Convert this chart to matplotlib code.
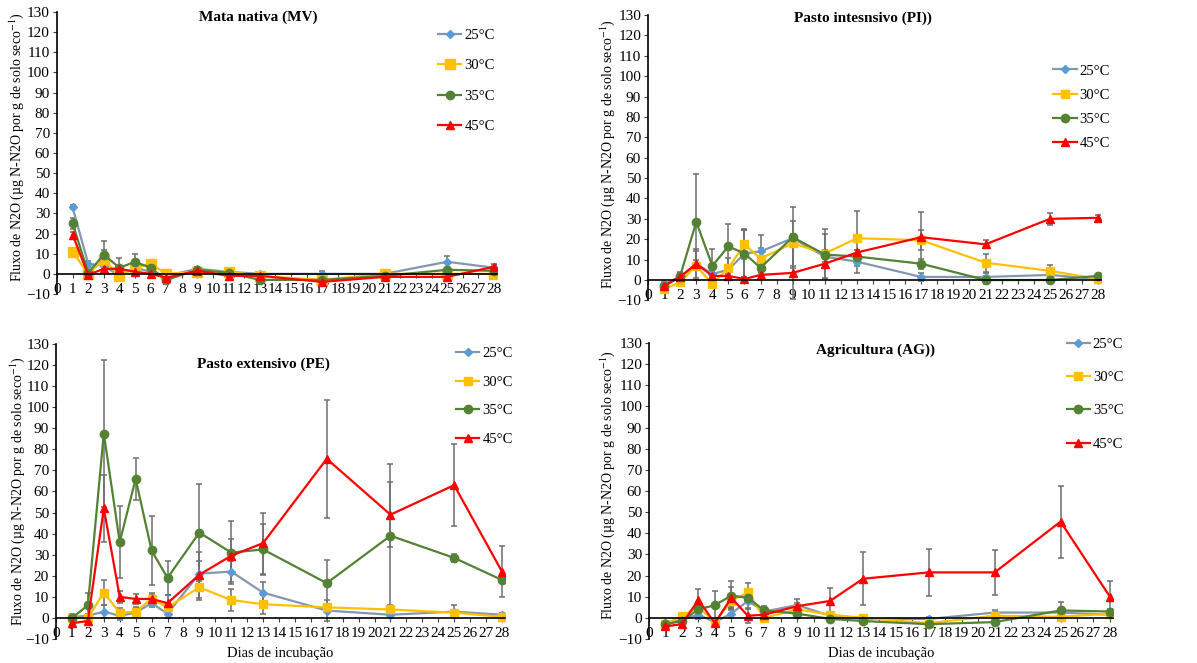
import numpy as np
import matplotlib
matplotlib.use('Agg')
import matplotlib.pyplot as plt

plt.rcParams['font.family'] = ['Liberation Serif', 'DejaVu Serif']
plt.rcParams['mathtext.fontset'] = 'stix'

# dias de amostragem
dias = [1, 2, 3, 4, 5, 6, 7, 9, 11, 13, 17, 21, 25, 28]
temps = ['25°C', '30°C', '35°C', '45°C']

# Mata nativa (MV)
mv_25 = [33, 5, 4, -1, 3, 1, -1, 2.5, 1, 0, 0, 0, 6, 3]
mv_30 = [11, 0, 7, -1, 3, 5, 0, 1, 1, -1, -3, 0, 0, 0]
mv_35 = [25, 0.5, 9.5, 3, 6, 3, -3, 2, 0.5, -3, -3, -1, 2, 1.5]
mv_45 = [19.5, -0.5, 2.5, 2.5, 1, 0, -2, 1.5, -1, -1, -4, -1.5, -1.5, 3.5]
mv_25_err = [1, 1.5, 2, 1, 1, 1, 1, 1, 0.5, 0.5, 1.5, 0.5, 3, 1.5]
mv_30_err = [1, 0.5, 5, 1, 1, 1, 0.5, 0.5, 0.5, 0.5, 0.5, 0.5, 0.5, 0.5]
mv_35_err = [2.5, 1, 7, 5, 4, 1, 1, 1, 0.5, 0.5, 0.5, 0.5, 1, 1]
mv_45_err = [1.5, 0.5, 1, 1, 1, 1, 1, 1, 0.5, 0.5, 0.5, 0.5, 0.5, 1.5]

# Pasto intensivo (PI)
pi_25 = [-2, 1.5, 8, 3, 5, 13, 14, 20.5, 11.5, 9, 1.5, 1.5, 2.5, 0.5]
pi_30 = [-4.5, -1, 7, -2, 6, 17.5, 10.5, 18, 13, 20.5, 19.5, 8.5, 4.5, 0.5]
pi_35 = [-3, 2, 28.5, 7, 16.5, 13, 6, 21, 12.5, 11.5, 8, 0, 0, 2]
pi_45 = [-3, 1.5, 8, 2, 2, 0.5, 2.5, 3.5, 8, 13.5, 21, 17.5, 30, 30.5]
pi_25_err = [1, 2, 2, 1.5, 2, 12, 8, 2, 11, 5.5, 2, 2, 1, 0.5]
pi_30_err = [1, 1, 7, 1, 5, 7, 5, 11, 12, 13.5, 5, 4.5, 3, 0.5]
pi_35_err = [1, 2, 23.5, 8, 11, 11.5, 2, 15, 2, 1, 2.5, 2, 0.5, 0.5]
pi_45_err = [1, 1, 7, 1, 1, 1, 1, 13, 1, 1, 12.5, 2, 3, 1.5]

# Pasto extensivo (PE)
pe_25 = [0.5, 1, 3, 1, 2.5, 7, 2, 21, 22, 12, 3.5, 1.5, 3, 1.5]
pe_30 = [0, 0, 12, 2.5, 3, 9, 5, 14.5, 8.5, 6.5, 5, 4, 2.5, 0.5]
pe_35 = [0, 6, 87.5, 36, 66, 32, 19, 40.5, 31, 32.5, 16.5, 39, 28.5, 18]
pe_45 = [-2.5, -1.5, 52, 10, 9, 9, 7, 20.5, 29.5, 35.5, 75.5, 49, 63, 22]
pe_25_err = [1.5, 1, 3, 2, 2, 2, 2, 6, 5, 5, 5, 1, 3, 1]
pe_30_err = [1, 1, 6, 2, 2, 2, 2, 6, 5, 4.5, 1, 2, 1, 0.5]
pe_35_err = [1, 6, 35, 17, 10, 16.5, 8, 23, 15, 12, 11, 34, 2, 1]
pe_45_err = [1, 1, 16, 3, 2.5, 3, 4, 11, 8, 14.5, 28, 15.5, 19.5, 12]

# Agricultura (AG)
ag_25 = [-2.5, -1, 1.5, -2, 2, 8, 3, 6, 1, -0.5, -0.5, 2.5, 2.5, 1.5]
ag_30 = [-3, 1, 5, -2, 8, 12, 0, 4, 1.5, 0, -2.5, 1, 0.5, 2]
ag_35 = [-3, -1.5, 4, 6, 10.5, 9.5, 3.5, 2, -0.5, -1.5, -3, -2, 3.5, 3]
ag_45 = [-4, -3, 8.5, -2.5, 9.5, 1, 1.5, 5.5, 8, 18.5, 21.5, 21.5, 45.5, 10]
ag_25_err = [1, 1, 2, 1, 2, 4, 2, 3, 1, 0.5, 1, 1, 1, 1]
ag_30_err = [1, 1.5, 2, 1, 3, 4.5, 1, 2, 1, 0.5, 0.5, 0.5, 0.5, 0.5]
ag_35_err = [1, 1, 2, 6.5, 7, 2, 2, 1, 0.5, 0.5, 0.5, 0.5, 4, 1]
ag_45_err = [1, 1, 5, 1, 5, 3.5, 2, 1.5, 6, 12.5, 11, 10.5, 17, 7.5]

line_cols = ['#8497B0', '#FFC000', '#548235', '#FF0000']
mark_cols = ['#5B9BD5', '#FFC000', '#548235', '#FF0000']
markers = ['D', 's', 'o', '^']
msizes = [4.5, 5.5, 6, 6]

fig = plt.figure(figsize=(11.97, 6.63), dpi=100)

paineis = [
    dict(title='Mata nativa (MV)', series=[mv_25, mv_30, mv_35, mv_45],
         errs=[mv_25_err, mv_30_err, mv_35_err, mv_45_err],
         rect=[0.0476, 0.5566, 0.3677, 0.4253], tpos=(258, 17),
         ylab=(17, 147), leg=(0.366, 0.957, 1.19), sq=7.5, xlab=False),
    dict(title='Pasto intesnsivo (PI))', series=[pi_25, pi_30, pi_35, pi_45],
         errs=[pi_25_err, pi_30_err, pi_35_err, pi_45_err],
         rect=[0.5414, 0.5469, 0.3786, 0.4305], tpos=(863, 18),
         ylab=(608, 154), leg=(0.880, 0.903, 0.76), sq=5.5, xlab=False),
    dict(title='Pasto extensivo (PE)', series=[pe_25, pe_30, pe_35, pe_45],
         errs=[pe_25_err, pe_30_err, pe_35_err, pe_45_err],
         rect=[0.0468, 0.0362, 0.3752, 0.445], tpos=(263, 364),
         ylab=(18, 491), leg=(0.381, 0.477, 1.06), sq=5.5, xlab=True),
    dict(title='Agricultura (AG))', series=[ag_25, ag_30, ag_35, ag_45],
         errs=[ag_25_err, ag_30_err, ag_35_err, ag_45_err],
         rect=[0.5422, 0.0362, 0.3878, 0.4465], tpos=(876, 350),
         ylab=(608, 485), leg=(0.891, 0.491, 1.38), sq=5.5, xlab=True),
]

W, H = 1197, 663
for p in paineis:
    ax = fig.add_axes(p['rect'])
    for i in range(4):
        ms = msizes[i] if i != 1 else p['sq']
        ax.errorbar(dias, p['series'][i], yerr=p['errs'][i], color=line_cols[i],
                    ecolor='#6E6E6E', elinewidth=1.1, capsize=2.5, capthick=1.1,
                    lw=1.6, marker=markers[i], ms=ms, mfc=mark_cols[i],
                    mec=mark_cols[i], label=temps[i])
    ax.set_xlim(0, 28.2)
    ax.set_ylim(-10, 130)
    ax.set_yticks(np.arange(-10, 131, 10))
    ax.set_xticks(np.arange(0, 29, 1))
    ax.spines['top'].set_visible(False)
    ax.spines['right'].set_visible(False)
    ax.spines['bottom'].set_position(('data', 0))
    ax.spines['bottom'].set_color('black')
    ax.spines['bottom'].set_linewidth(1.2)
    ax.spines['left'].set_linewidth(1.2)
    ax.tick_params(axis='x', direction='out', length=3, width=0.8, pad=3.5,
                   labelsize=11, color='#404040')
    ax.tick_params(axis='y', direction='out', length=3, width=0.8, pad=2,
                   labelsize=11, color='#404040')
    fig.text(p['tpos'][0] / W, 1 - p['tpos'][1] / H, p['title'],
             ha='center', va='center', fontsize=11, fontweight='bold')
    fig.text(p['ylab'][0] / W, 1 - p['ylab'][1] / H,
             'Fluxo de N2O (µg N-N2O por g de solo seco$^{-1}$)',
             rotation=90, ha='center', va='center', fontsize=10)
    if p['xlab']:
        fig.text(p['rect'][0] + p['rect'][2] * 0.5, 1 - 654 / H,
                 'Dias de incubação', ha='center', va='center', fontsize=10.5)
    lx, ly, ls = p['leg']
    h, l = ax.get_legend_handles_labels()
    h = [hh[0] for hh in h]
    ax.legend(h, l, loc='upper left', bbox_to_anchor=(lx, ly),
              bbox_transform=fig.transFigure, frameon=False, borderpad=0,
              borderaxespad=0, handlelength=1.6, handletextpad=0.2,
              labelspacing=ls, fontsize=10.5)

fig.savefig('out.png', dpi=100)
